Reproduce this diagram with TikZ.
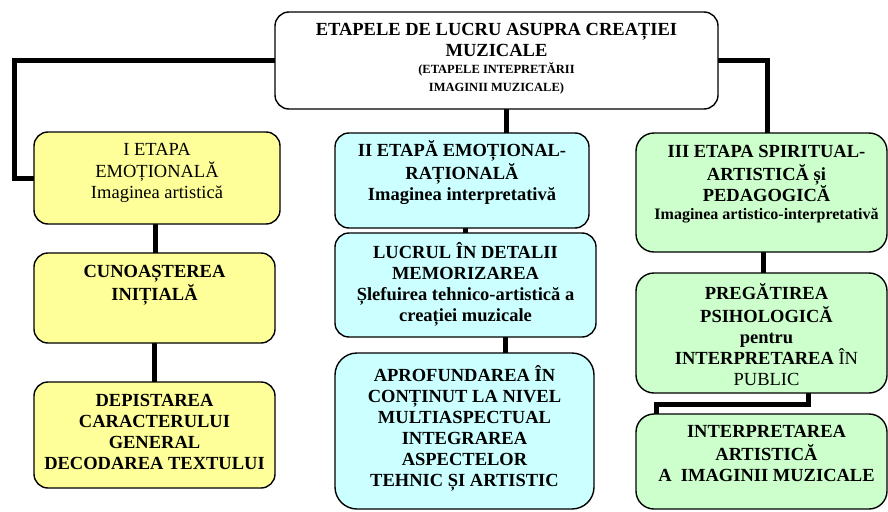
\documentclass[tikz,border=0pt]{standalone}
\usepackage{fontspec}
\setmainfont{Liberation Serif}
\usetikzlibrary{backgrounds}
\definecolor{yel}{HTML}{FFFF99}
\definecolor{cya}{HTML}{CCFFFF}
\definecolor{grn}{HTML}{CCFFCC}
% width, height, top pad, shift, content
\newcommand{\bx}[5]{\parbox[c][#2][t]{#1}{\centering\leftskip=#4 plus 1fil\fontsize{18.5}{21}\selectfont\vspace*{#3}\strut #5}}
\tikzset{
  stagebox/.style={draw=black, line width=1.4pt, rounded corners=14pt, inner sep=0pt, outer sep=0pt},
  conn/.style={line width=5pt, black},
}
\begin{document}
\begin{tikzpicture}[x=1pt, y=-1pt]
\useasboundingbox (0,0) rectangle (888,511);
% top
\node[stagebox, fill=white] (top) at (496.5,60.5)
  {\bx{443pt}{97pt}{9.3pt}{0pt}{\bfseries ETAPELE DE LUCRU ASUPRA CREAȚIEI\\ MUZICALE\\[-1pt]
   {\fontsize{12.5}{18}\selectfont (ETAPELE INTEPRETĂRII\\[-3pt] IMAGINII MUZICALE)}}};
% yellow column
\node[stagebox, fill=yel] (y1) at (157,178)
  {\bx{246pt}{92pt}{8.3pt}{0pt}{I ETAPA\\ EMOȚIONALĂ\\ Imaginea artistică}};
\node[stagebox, fill=yel] (y2) at (154.5,298)
  {\bx{241pt}{90pt}{9.3pt}{0pt}{\bfseries CUNOAȘTEREA\\ INIȚIALĂ}};
\node[stagebox, fill=yel] (y3) at (154.5,435)
  {\bx{241pt}{106pt}{9.3pt}{0pt}{\bfseries DEPISTAREA\\ CARACTERULUI\\ GENERAL\\ DECODAREA TEXTULUI}};
% cyan column
\node[stagebox, fill=cya] (c1) at (462,180.5)
  {\bx{254pt}{95pt}{7.3pt}{0pt}{\bfseries II ETAPĂ EMOȚIONAL-\\ RAȚIONALĂ\\ Imaginea interpretativă}};
\node[stagebox, fill=cya] (c2) at (465.5,285)
  {\bx{261pt}{104pt}{9.3pt}{0pt}{\bfseries LUCRUL ÎN DETALII\\ MEMORIZAREA\\ Șlefuirea tehnico-artistică a\\ creației muzicale}};
\node[stagebox, fill=cya, rounded corners=22pt] (c3) at (464.5,431)
  {\bx{259pt}{156pt}{12.3pt}{0pt}{\bfseries APROFUNDAREA ÎN\\ CONȚINUT LA NIVEL\\ MULTIASPECTUAL\\ INTEGRAREA\\ ASPECTELOR\\ TEHNIC ȘI ARTISTIC}};
% green column
\node[stagebox, fill=grn, rounded corners=18pt] (g1) at (761.5,192.5)
  {\bx{251pt}{119pt}{9.3pt}{10pt}{\bfseries III ETAPA SPIRITUAL-\\ ARTISTICĂ și\\ PEDAGOGICĂ\\[-3pt]
   {\fontsize{16}{18}\selectfont Imaginea artistico-interpretativă}}};
\node[stagebox, fill=grn, rounded corners=18pt] (g2) at (761.5,333)
  {\bx{251pt}{120pt}{10.3pt}{10pt}{\bfseries PREGĂTIREA\\ PSIHOLOGICĂ\\ pentru\\ INTERPRETAREA \mdseries ÎN\\ PUBLIC}};
\node[stagebox, fill=grn, rounded corners=18pt] (g3) at (761.5,461.5)
  {\bx{251pt}{95pt}{8.3pt}{10pt}{\bfseries INTERPRETAREA\\ ARTISTICĂ\\ A~~IMAGINII MUZICALE}};
% connectors
\begin{scope}[on background layer]
\draw[conn] (top.west) -| (14,0 |- y1.west) -- (y1.west);
\draw[conn] (top.east) -| (767,0 |- g1.north);
\draw[conn] (506,0 |- top.south) -- (506,0 |- c1.north);
\draw[conn] (465,0 |- c1.south) -- (465,0 |- c2.north);
\draw[conn] (505,0 |- c2.south) -- (505,0 |- c3.north);
\draw[conn] (155,0 |- y1.south) -- (155,0 |- y2.north);
\draw[conn] (154,0 |- y2.south) -- (154,0 |- y3.north);
\draw[conn] (763,0 |- g1.south) -- (763,0 |- g2.north);
\draw[conn] (808,0 |- g2.south) -- (808,404) -| (656,0 |- g3.north);
\end{scope}
\end{tikzpicture}
\end{document}
